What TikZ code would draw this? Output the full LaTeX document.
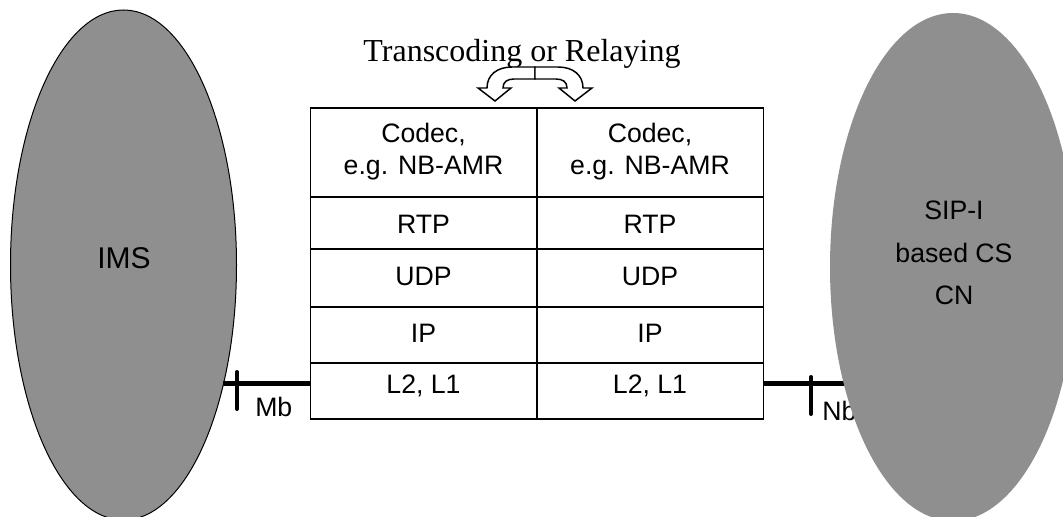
\documentclass[tikz,border=0pt]{standalone}
\usepackage{fontspec}
\setmainfont{Liberation Sans}
\newfontfamily\serifb{Liberation Serif}
\usetikzlibrary{shapes.geometric}
\definecolor{ellgray}{RGB}{143,143,143}
\tikzset{
  cloud/.style={ellipse, fill=ellgray, inner sep=0pt, outer sep=0pt},
  cellbox/.style={draw, line width=1.1pt, minimum width=169.9pt, inner sep=0pt, outer sep=0pt},
  celltxt/.style={anchor=base, inner sep=0pt, font=\fontsize{20}{24}\selectfont},
  iface/.style={line width=3.75pt},
  tick/.style={line width=3pt, line cap=round},
  ifacelbl/.style={anchor=base west, inner sep=0pt, font=\fontsize{20}{24}\selectfont},
  turnarrow/.style={draw, fill=white, line width=1.1pt, line join=miter}
}
\begin{document}
\begin{tikzpicture}[x=0.75pt,y=-0.75pt]
\useasboundingbox (0,0) rectangle (1063,517);
% IMS cloud
\node[cloud, draw=black, line width=0.75pt, minimum width=169.5pt, minimum height=382.5pt] (ims) at (123.5,265) {};
\node[anchor=base, inner sep=0pt, font=\fontsize{22.5}{27}\selectfont] (imslbl) at (124,268) {IMS};
% table
\foreach \n/\cy/\h in {1/152.5/89, 2/223/52, 3/278/58, 4/335/56, 5/391/56}{
  \node[cellbox, minimum height=\h*0.75pt] (a\n) at (423.5,\cy) {};
  \node[cellbox, minimum height=\h*0.75pt] (b\n) at (650,\cy) {};
}
\node[celltxt] (a1t1) at (423.5,142) {Codec,};
\node[celltxt] (a1t2) at (423.5,174) {e.g. NB-AMR};
\node[celltxt] (b1t1) at (650,142) {Codec,};
\node[celltxt] (b1t2) at (650,174) {e.g. NB-AMR};
\node[celltxt] (a2t) at (423.5,233) {RTP};
\node[celltxt] (b2t) at (650,233) {RTP};
\node[celltxt] (a3t) at (423.5,285) {UDP};
\node[celltxt] (b3t) at (650,285) {UDP};
\node[celltxt] (a4t) at (423.5,342) {IP};
\node[celltxt] (b4t) at (650,342) {IP};
\node[celltxt] (a5t) at (423.5,393) {L2, L1};
\node[celltxt] (b5t) at (650,393) {L2, L1};
% Mb interface
\coordinate (mbA) at (223,383);
\draw[iface] (mbA) -- (a5.west |- mbA);
\coordinate (mbT1) at (237,372);
\coordinate (mbT2) at (237,409);
\draw[tick] (mbT1) -- (mbT2);
\node[ifacelbl] (mb) at (255,416) {Mb};
% Nb interface
\coordinate (nbB) at (850,383);
\draw[iface] (b5.east |- nbB) -- (nbB);
\coordinate (nbT1) at (811,377);
\coordinate (nbT2) at (811,414);
\draw[tick] (nbT1) -- (nbT2);
\node[ifacelbl] (nb) at (822,420) {Nb};
% transcoding arrows
\node[anchor=base, inner sep=0pt, font=\serifb\fontsize{24}{28}\selectfont] (trans) at (522,62) {Transcoding or Relaying};
\draw[turnarrow] (535,67) -- (512,67) .. controls (497,67) and (487,75) .. (487,88)
  -- (478,88) -- (495,101) -- (511,88) -- (503,88)
  .. controls (503,82) and (507,79) .. (514,79) -- (535,79) -- cycle;
\draw[turnarrow] (535,67) -- (558,67) .. controls (573,67) and (583,75) .. (583,88)
  -- (592,88) -- (575,101) -- (559,88) -- (567,88)
  .. controls (567,82) and (563,79) .. (556,79) -- (535,79) -- cycle;
% SIP-I cloud
\node[cloud, minimum width=184.5pt, minimum height=381pt] (sip) at (953,267) {};
\node[align=center, inner sep=0pt, font=\fontsize{20}{32}\selectfont] (siplbl) at (954,253) {SIP-I\\based CS\\CN};
\end{tikzpicture}
\end{document}
